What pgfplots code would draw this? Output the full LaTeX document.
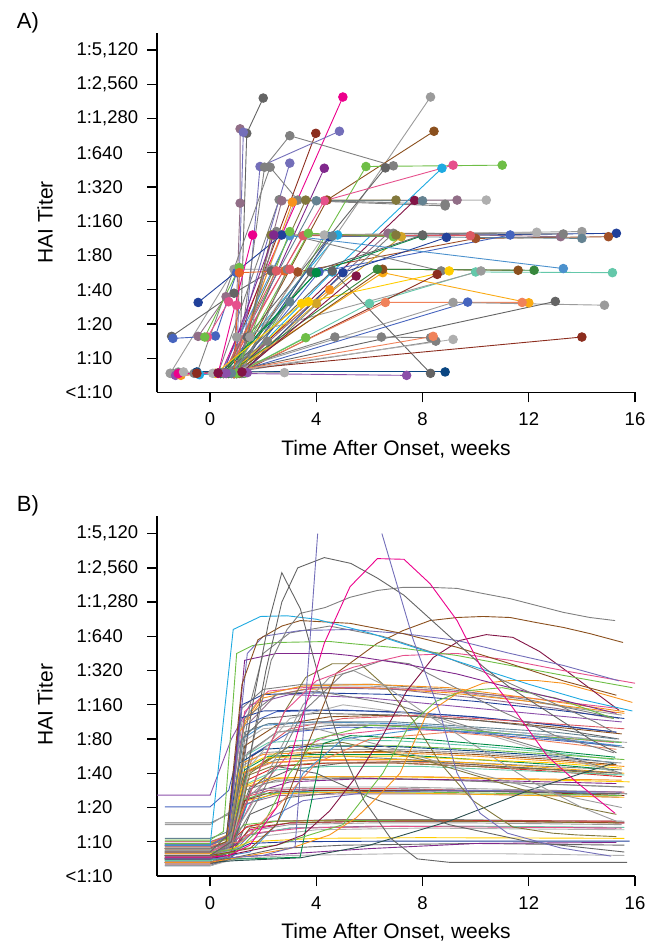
\documentclass[border=0pt]{standalone}
\usepackage{pgfplots}
\pgfplotsset{compat=1.18}
\usepackage{fontspec}
\setmainfont{Liberation Sans}
\definecolor{ga}{RGB}{128,128,128}
\definecolor{gb}{RGB}{100,100,100}
\definecolor{gc}{RGB}{155,155,155}
\definecolor{gd}{RGB}{175,175,175}
\definecolor{nv}{RGB}{33,64,154}
\definecolor{nvb}{RGB}{10,70,130}
\definecolor{bl}{RGB}{70,100,190}
\definecolor{sb}{RGB}{115,110,185}
\definecolor{pu}{RGB}{128,40,140}
\definecolor{pub}{RGB}{140,80,170}
\definecolor{pk}{RGB}{236,0,140}
\definecolor{hp}{RGB}{230,80,140}
\definecolor{br}{RGB}{139,80,30}
\definecolor{brb}{RGB}{160,80,40}
\definecolor{dr}{RGB}{140,45,30}
\definecolor{gr}{RGB}{110,190,70}
\definecolor{dg}{RGB}{0,140,70}
\definecolor{dgb}{RGB}{55,135,60}
\definecolor{or}{RGB}{247,147,30}
\definecolor{orb}{RGB}{250,170,20}
\definecolor{yl}{RGB}{255,205,0}
\definecolor{cy}{RGB}{30,170,225}
\definecolor{tl}{RGB}{100,200,170}
\definecolor{sa}{RGB}{240,130,90}
\definecolor{sr}{RGB}{220,90,100}
\definecolor{mv}{RGB}{145,110,135}
\definecolor{mr}{RGB}{130,20,70}
\definecolor{ol}{RGB}{130,120,60}
\definecolor{sl}{RGB}{75,145,205}
\definecolor{bg}{RGB}{100,130,145}
\definecolor{rd}{RGB}{220,40,40}
\definecolor{gn}{RGB}{210,165,40}
\definecolor{ds}{RGB}{45,80,80}
\definecolor{ora}{RGB}{230,100,40}
\pgfplotsset{
  panel/.style={
    scale only axis, width=478pt, height=359.5pt,
    xmin=-2, xmax=16, ymin=0, ymax=10.5,
    axis x line=bottom, axis y line=left,
    axis line style={-, line width=1.3pt, black},
    tick align=outside,
    major tick length=10pt,
    tick style={line width=1.3pt, black},
    xtick={0,4,8,12,16}, xticklabels={0,4,8,12,16},
    ytick={1,2,3,4,5,6,7,8,9,10},
    yticklabels={1:10,1:20,1:40,1:80,1:160,1:320,1:640,{1:1,280},{1:2,560},{1:5,120}},
    extra y ticks={0}, extra y tick labels={<1:10},
    extra y tick style={major tick length=0pt, yticklabel style={xshift=-20.8pt}},
    tick label style={font=\fontsize{18.5}{22}\selectfont},
    yticklabel style={anchor=west, xshift=-74pt},
    xticklabel style={yshift=-7pt},
    label style={font=\fontsize{21}{25}\selectfont},
    ylabel={HAI Titer}, xlabel={Time After Onset, weeks},
    xlabel style={at={(axis description cs:0.5,-0.159)}, anchor=center},
    clip=false,
  },
  sA/.style={mark=*, mark size=4.3pt, line width=0.9pt},
  sB/.style={no marks, line width=0.9pt},
}
\newcommand{\pA}[2]{\addplot[sA,color=#1] coordinates {#2};}
\newcommand{\pB}[2]{\addplot[sB,color=#1] coordinates {#2};}
\begin{document}
\begin{tikzpicture}
\useasboundingbox (0,0) rectangle (657pt,942pt);
% ---------------- Panel A ----------------
\begin{axis}[panel, at={(157pt,549.5pt)}, anchor=south west,
  ylabel style={at={(axis description cs:-0.234,0.4735)}, anchor=center}]
\node[font=\fontsize{22}{26}\selectfont] at (axis description cs:-0.27,1.027) {A)};
\pA{gd}{(-1.5,0.56) (-1.2,0.6) (0.7,0.56) (3.2,5.6) (10.4,5.62)}
\pA{ga}{(-1.4,0.55) (-0.6,0.56) (0.3,0.56) (2.6,5.63) (8.85,5.45)}
\pA{gc}{(-1.5,0.56) (0.9,3.6) (2.3,3.6)}
\pA{gb}{(-1.45,1.64) (0.9,2.9) (2.3,3.55)}
\pA{bl}{(-1.4,1.58) (0.2,1.65) (1.0,3.5)}
\pA{pub}{(-1.3,0.5) (0.5,0.56) (7.4,0.5)}
\pA{nvb}{(-0.5,0.6) (8.85,0.6)}
\pA{ga}{(-1.2,0.58) (0.6,0.56) (8.5,1.5)}
\pA{or}{(-1.1,0.5) (0.6,0.56) (4.5,3.0)}
\pA{cy}{(-0.4,0.52) (0.4,0.56) (4.8,4.6)}
\pA{gb}{(1.1,0.58) (1.38,7.57) (2.0,8.6)}
\pA{mv}{(0.9,0.55) (1.13,5.53) (1.13,7.7)}
\pA{sb}{(1.0,0.6) (1.25,7.6)}
\pA{pk}{(0.4,0.56) (5.0,8.63)}
\pA{gc}{(1.2,0.58) (8.3,8.63)}
\pA{br}{(0.9,0.55) (4.4,5.62) (8.43,7.63)}
\pA{dr}{(0.6,0.56) (3.98,7.57)}
\pA{sb}{(1.2,0.56) (1.88,6.6) (4.87,7.63)}
\pA{ga}{(1.0,0.55) (2.05,6.58) (3.0,7.5) (6.9,6.62)}
\pA{sb}{(0.7,0.56) (3.0,6.7)}
\pA{pu}{(0.8,0.57) (4.3,6.55)}
\pA{ga}{(-0.5,0.56) (2.26,6.58) (3.3,5.62) (8.85,5.5)}
\pA{gr}{(1.3,0.56) (5.87,6.6) (11.0,6.64)}
\pA{gb}{(1.4,1.62) (6.6,6.56)}
\pA{hp}{(0.5,0.56) (4.3,5.6) (9.15,6.64)}
\pA{cy}{(0.9,0.56) (4.6,3.52) (8.73,6.55)}
\pA{mv}{(1.0,0.56) (2.7,5.6) (9.3,5.62)}
\pA{ol}{(0.6,0.56) (3.6,5.62) (7.0,5.62)}
\pA{mr}{(0.9,0.56) (7.7,5.61)}
\pA{bg}{(0.5,0.56) (4.0,5.6) (8.0,5.6)}
\pA{or}{(0.8,0.56) (3.1,5.56)}
\pA{nv}{(1.0,0.56) (4.5,4.55) (15.3,4.65)}
\pA{brb}{(1.0,0.56) (3.3,3.52) (10.0,4.5) (15.0,4.55)}
\pA{gc}{(1.5,1.62) (2.3,4.59) (14.0,4.7)}
\pA{gd}{(0.8,0.56) (4.3,4.6) (12.3,4.68)}
\pA{mv}{(0.9,0.56) (6.7,4.65) (13.2,4.55)}
\pA{ga}{(1.2,0.56) (6.9,4.65) (13.3,4.63)}
\pA{bg}{(0.7,0.56) (4.6,4.57) (14.0,4.5)}
\pA{bl}{(1.0,0.56) (4.1,3.52) (11.3,4.6)}
\pA{sr}{(0.6,0.56) (3.5,4.58) (9.8,4.58)}
\pA{gr}{(0.8,0.56) (3.7,4.65) (6.9,4.55)}
\pA{gn}{(1.0,0.56) (4.0,2.6) (7.2,4.55)}
\pA{dg}{(0.5,0.56) (4.0,3.5) (8.0,4.58)}
\pA{nv}{(1.2,0.56) (5.0,3.5) (8.9,4.53)}
\pA{gb}{(0.9,0.56) (3.8,3.52) (8.0,4.6)}
\pA{ga}{(1.0,0.56) (2.5,4.7) (8.7,3.55)}
\pA{sl}{(0.4,0.56) (3.0,4.58) (13.3,3.62)}
\pA{tl}{(1.0,0.56) (6.0,2.6) (10.0,3.52) (15.15,3.5)}
\pA{gb}{(0.6,0.56) (4.6,3.55) (8.3,0.56)}
\pA{gc}{(1.0,1.62) (10.2,3.55)}
\pA{yl}{(0.8,0.56) (3.7,2.65) (9.0,3.55)}
\pA{orb}{(0.7,0.56) (6.5,3.5) (12.0,2.62)}
\pA{br}{(0.9,0.56) (6.5,3.6) (11.6,3.57)}
\pA{dgb}{(0.7,0.56) (6.3,3.6) (12.2,3.57)}
\pA{dr}{(1.1,0.56) (8.55,3.45)}
\pA{sa}{(1.0,0.56) (6.6,2.63) (11.75,2.63)}
\pA{gc}{(0.5,0.56) (9.15,2.63) (14.85,2.55)}
\pA{bl}{(0.8,0.56) (9.7,2.64)}
\pA{gb}{(0.5,0.56) (13.0,2.66)}
\pA{dr}{(-0.5,0.56) (14.0,1.62)}
\pA{ga}{(0.4,0.56) (4.7,1.62) (6.45,1.62) (8.3,1.6)}
\pA{gd}{(0.2,0.56) (9.15,1.55)}
\pA{sa}{(0.3,0.56) (8.4,1.64)}
\pA{gr}{(1.0,0.56) (3.6,1.6)}
\pA{mv}{(-0.45,1.64) (0.6,2.8)}
\pA{hp}{(-0.1,1.62) (0.7,2.65) (1.0,2.55)}
\pA{nv}{(-0.45,2.63) (2.7,4.6)}
\pA{gr}{(-0.2,1.62) (1.1,3.65)}
\pA{ora}{(0.9,0.56) (1.1,3.5) (2.8,3.55)}
\pA{ga}{(1.2,0.56) (2.9,3.6)}
\pA{ol}{(1.1,0.56) (2.3,4.6) (7.0,4.6)}
\pA{pu}{(0.5,0.56) (2.4,4.6)}
\pA{gr}{(1.0,0.56) (3.0,4.7)}
\pA{sr}{(0.5,0.56) (2.5,3.55) (3.0,3.6)}
\pA{dg}{(0.4,0.56) (4.0,3.5)}
\pA{ga}{(0.5,0.56) (2.15,1.5)}
\pA{bg}{(0.8,0.56) (3.0,2.65)}
\pA{yl}{(0.2,0.56) (3.45,2.6)}
\pA{pk}{(-1.2,0.55) (0.3,0.56) (1.6,4.6)}
\pA{gd}{(-1.0,0.6) (0.1,0.56) (1.3,0.6) (2.8,0.58)}
\pA{pub}{(0.6,0.56) (1.4,0.58)}
\pA{mr}{(0.3,0.57) (1.2,0.6) (5.5,3.4)}
\end{axis}
% ---------------- Panel B ----------------
\begin{axis}[panel, at={(157pt,66pt)}, anchor=south west,
  ylabel style={at={(axis description cs:-0.234,0.476)}, anchor=center},
  xlabel style={at={(axis description cs:0.5,-0.156)}, anchor=center}]
\node[font=\fontsize{22}{26}\selectfont] at (axis description cs:-0.27,1.029) {B)};
\pB{pub}{(-2,2.36) (0,2.36) (0.8,4.0) (1.5,5.0) (3,5.3) (6,5.2) (10,4.9) (15.5,4.5)}
\pB{bl}{(-1.7,2.02) (0,2.02) (0.7,2.5) (1.3,4.4) (2.5,4.8) (5,4.85) (9,4.7) (12,4.5) (15.3,4.2)}
\pB{ga}{(-1.7,1.55) (0,1.55) (0.7,1.8) (1.3,3.0) (2.5,3.4) (5,3.5) (10,3.3) (15.5,3.1)}
\pB{gc}{(-1.7,1.5) (0,1.5) (1.0,2.0) (2,2.7) (4,2.9) (9,2.8) (15.5,2.6)}
\pB{gc}{(-1.7,0.8) (0,0.8) (0.65,1.0) (1.2,4.5) (2,5.3) (3.5,5.55) (6,5.55) (9,5.4) (12,5.1) (15.5,4.7)}
\pB{hp}{(-1.7,0.6) (0,0.6) (0.7,0.9) (1.3,4.8) (2.2,5.4) (3.5,5.5) (6,5.5) (9,5.4) (12,5.2) (15.3,4.9)}
\pB{or}{(-1.7,0.5) (0,0.5) (0.6,0.7) (1.1,4.2) (2,5.2) (3.5,5.45) (6,5.5) (9,5.35) (12,5.1) (15.6,4.75)}
\pB{ga}{(-1.7,1.0) (0,1.0) (0.7,1.2) (1.2,4.9) (2,5.45) (3.5,5.6) (6,5.6) (9,5.45) (12,5.15) (15.4,4.6)}
\pB{mv}{(-1.7,0.7) (0,0.7) (0.8,0.9) (1.5,4.5) (2.5,5.3) (4,5.5) (7,5.45) (10,5.2) (13,4.9) (15.2,4.6)}
\pB{nv}{(-1.7,0.9) (0,0.9) (0.6,1.1) (1.2,5.0) (2,5.3) (4,5.35) (7,5.3) (10,5.1) (13,4.85) (15.6,4.6)}
\pB{or}{(-1.7,0.8) (0,0.8) (0.65,1.0) (1.3,4.5) (2,5.3) (3.5,5.55) (6,5.6) (9,5.5) (12,5.2) (15.6,4.8)}
\pB{nv}{(-1.7,0.95) (0,0.95) (0.65,1.1) (1.1,4.6) (2,4.82) (4,4.85) (7,4.8) (10,4.65) (13,4.4) (15.3,4.2)}
\pB{br}{(-1.7,0.6) (0,0.6) (0.7,0.8) (1.3,3.8) (2.5,4.4) (4.5,4.65) (7,4.7) (10,4.55) (13,4.35) (15.5,4.15)}
\pB{gb}{(-1.7,0.45) (0,0.45) (0.7,0.7) (1.2,4.0) (2,4.6) (4,4.75) (7,4.7) (10,4.55) (13,4.3) (15.4,4.0)}
\pB{sr}{(-1.7,0.8) (0,0.8) (0.7,1.0) (1.6,3.5) (3,4.3) (5,4.6) (8,4.7) (11,4.55) (15.6,4.3)}
\pB{sl}{(-1.7,0.65) (0,0.65) (0.7,0.9) (1.2,4.0) (2,4.4) (4,4.5) (7,4.45) (10,4.3) (13,4.1) (15.4,3.9)}
\pB{gd}{(-1.7,0.4) (0,0.4) (0.6,0.6) (1.2,3.9) (2,4.3) (4,4.45) (7,4.4) (10,4.3) (13,4.1) (15.7,3.9)}
\pB{bg}{(-1.7,1.1) (0,1.1) (0.7,1.3) (1.3,4.2) (2.2,4.45) (4,4.5) (7,4.5) (10,4.35) (13,4.2) (15.3,4.0)}
\pB{ga}{(-1.7,0.55) (0,0.55) (0.8,0.8) (1.4,3.6) (2.5,4.2) (4.5,4.4) (7,4.4) (10,4.25) (13,4.0) (15.6,3.75)}
\pB{hp}{(-1.7,0.7) (0,0.7) (0.7,0.9) (1.8,2.5) (3,3.6) (4.5,4.1) (7,4.3) (10,4.2) (13,4.05) (15.2,3.9)}
\pB{bl}{(-1.7,0.3) (0,0.3) (0.9,0.6) (1.5,3.5) (3,4.2) (5,4.35) (8,4.3) (11,4.1) (15.4,3.8)}
\pB{tl}{(-1.7,0.85) (0,0.85) (0.7,1.0) (1.3,3.5) (2.2,3.9) (4,3.98) (7,3.95) (10,3.8) (13,3.6) (15.2,3.4)}
\pB{gr}{(-1.7,0.5) (0,0.5) (0.7,0.7) (1.4,3.0) (2.5,3.6) (4.5,3.8) (7,3.8) (10,3.7) (13,3.55) (15.6,3.4)}
\pB{nvb}{(-1.7,0.7) (0,0.7) (0.6,0.9) (1.1,3.3) (2,3.7) (4,3.8) (7,3.78) (10,3.65) (13,3.5) (15.3,3.3)}
\pB{gc}{(-1.7,0.6) (0,0.6) (0.7,0.8) (1.2,3.2) (2,3.6) (4,3.7) (7,3.7) (10,3.6) (13,3.45) (15.5,3.3)}
\pB{or}{(-1.7,0.95) (0,0.95) (0.65,1.2) (1.2,3.3) (2,3.55) (4,3.62) (7,3.6) (10,3.5) (13,3.35) (15.6,3.2)}
\pB{br}{(-1.7,0.4) (0,0.4) (0.7,0.6) (1.3,3.0) (2.3,3.45) (4,3.6) (7,3.65) (10,3.55) (13,3.4) (15.3,3.25)}
\pB{dg}{(-1.7,0.75) (0,0.75) (0.7,0.9) (1.3,3.1) (2.2,3.5) (4,3.55) (7,3.55) (10,3.4) (13,3.25) (15.2,3.1)}
\pB{yl}{(-1.7,0.5) (0,0.5) (0.6,0.7) (1.1,3.1) (2,3.45) (4,3.5) (7,3.5) (10,3.4) (13,3.3) (15.5,3.15)}
\pB{orb}{(-1.7,0.65) (0,0.65) (0.65,0.85) (1.2,3.0) (2,3.3) (4,3.4) (7,3.4) (10,3.3) (13,3.15) (15.6,3.0)}
\pB{sa}{(-1.7,0.9) (0,0.9) (0.7,1.1) (1.3,3.0) (2.3,3.3) (4,3.38) (7,3.35) (10,3.25) (13,3.1) (15.4,3.0)}
\pB{gb}{(-1.7,0.55) (0,0.55) (0.7,0.8) (1.5,2.6) (3,3.1) (5,3.3) (8,3.35) (11,3.2) (15.5,3.0)}
\pB{rd}{(-1.7,0.35) (0,0.35) (0.8,0.6) (1.4,2.8) (2.5,3.2) (4.5,3.3) (7,3.3) (10,3.2) (13,3.05) (15.5,2.9)}
\pB{ol}{(-1.7,0.8) (0,0.8) (0.7,1.0) (1.3,2.9) (2.3,3.2) (4,3.3) (7,3.3) (10,3.2) (13,3.1) (15.3,2.95)}
\pB{tl}{(-1.7,0.45) (0,0.45) (0.7,0.7) (1.4,2.7) (2.5,3.1) (4.5,3.2) (8,3.2) (11,3.1) (15.6,2.95)}
\pB{yl}{(-1.7,0.7) (0,0.7) (0.7,0.9) (1.2,2.6) (2,2.85) (4,2.9) (7,2.9) (10,2.85) (13,2.8) (15.8,2.75)}
\pB{or}{(-1.7,0.6) (0,0.6) (0.7,0.8) (1.3,2.6) (2.5,2.85) (4.5,2.9) (8,2.9) (11,2.85) (15.5,2.8)}
\pB{ga}{(-1.7,0.9) (0,0.9) (0.7,1.1) (1.3,2.5) (2.5,2.8) (5,2.85) (9,2.8) (12,2.7) (15.6,2.6)}
\pB{pu}{(-1.7,0.5) (0,0.5) (0.8,0.7) (1.5,2.4) (3,2.75) (6,2.85) (10,2.8) (15.3,2.7)}
\pB{gc}{(-1.7,0.75) (0,0.75) (0.7,0.9) (1.2,2.3) (2,2.55) (4,2.6) (7,2.6) (10,2.55) (13,2.5) (15.5,2.45)}
\pB{sl}{(-1.7,0.55) (0,0.55) (0.7,0.75) (1.3,2.2) (2.2,2.5) (4,2.55) (7,2.55) (10,2.5) (13,2.45) (15.4,2.4)}
\pB{sr}{(-1.7,1.0) (0,1.0) (0.7,1.15) (1.3,2.3) (2.2,2.5) (4,2.55) (7,2.55) (10,2.5) (15.6,2.45)}
\pB{cy}{(-1.7,0.65) (0,0.65) (0.8,0.85) (1.4,2.1) (2.5,2.45) (5,2.5) (9,2.5) (12,2.45) (15.3,2.4)}
\pB{dr}{(-1.7,0.4) (0,0.4) (0.7,0.6) (1.3,2.2) (2.3,2.45) (4,2.5) (8,2.5) (12,2.45) (15.6,2.35)}
\pB{gr}{(-1.7,0.85) (0,0.85) (0.6,1.0) (1.1,2.2) (2,2.4) (4,2.45) (8,2.45) (12,2.4) (15.5,2.35)}
\pB{gb}{(-1.7,0.3) (0,0.3) (0.8,0.5) (1.5,1.8) (3,2.3) (5,2.45) (8,2.5) (12,2.45) (15.7,2.4)}
\pB{mv}{(-1.7,0.7) (0,0.7) (0.7,0.85) (1.3,2.1) (2.5,2.35) (5,2.4) (9,2.4) (13,2.35) (15.4,2.3)}
\pB{sb}{(-1.7,0.6) (0,0.6) (1.0,0.8) (2.0,1.6) (3.5,2.2) (6,2.45) (10,2.5) (15.5,2.45)}
\pB{orb}{(-1.7,0.95) (0,0.95) (0.7,1.1) (1.4,2.2) (2.5,2.4) (5,2.45) (9,2.4) (15.6,2.3)}
\pB{ga}{(-1.7,0.5) (0,0.5) (0.7,0.7) (1.3,1.4) (2.3,1.6) (5,1.65) (9,1.65) (12,1.62) (15.6,1.6)}
\pB{rd}{(-1.7,0.8) (0,0.8) (0.7,0.95) (1.4,1.45) (2.5,1.6) (5,1.63) (9,1.62) (15.3,1.6)}
\pB{pk}{(-1.7,0.65) (0,0.65) (0.8,0.8) (1.5,1.35) (3,1.55) (6,1.6) (10,1.6) (15.6,1.55)}
\pB{gc}{(-1.7,0.4) (0,0.4) (0.7,0.6) (1.4,1.3) (3,1.5) (6,1.55) (10,1.55) (15.5,1.5)}
\pB{gr}{(-1.7,0.95) (0,0.95) (0.7,1.1) (1.3,1.5) (2.5,1.6) (6,1.62) (10,1.6) (15.4,1.55)}
\pB{br}{(-1.7,0.55) (0,0.55) (0.8,0.7) (1.5,1.4) (3,1.55) (6,1.6) (11,1.6) (15.6,1.55)}
\pB{pu}{(-1.7,0.7) (0,0.7) (0.8,0.85) (1.5,1.2) (3,1.4) (6,1.45) (10,1.45) (15.3,1.4)}
\pB{tl}{(-1.7,0.45) (0,0.45) (0.7,0.6) (1.4,1.2) (3,1.4) (7,1.45) (11,1.45) (15.6,1.42)}
\pB{hp}{(-1.7,0.85) (0,0.85) (0.7,1.0) (1.6,1.25) (3.5,1.4) (7,1.45) (15.5,1.4)}
\pB{gd}{(-1.7,0.6) (0,0.6) (0.9,0.75) (1.8,1.15) (4,1.35) (8,1.4) (15.6,1.35)}
\pB{nv}{(-1.7,0.5) (0,0.5) (0.8,0.7) (1.5,0.95) (3,1.0) (7,1.02) (11,1.02) (15.8,1.02)}
\pB{yl}{(-1.7,0.65) (0,0.65) (0.8,0.8) (1.5,1.0) (4,1.1) (8,1.12) (15.6,1.1)}
\pB{gb}{(-1.7,0.35) (0,0.35) (1.0,0.55) (2.5,0.8) (5,0.9) (10,0.95) (15.6,0.9)}
\pB{pu}{(-1.7,0.4) (0,0.4) (1.0,0.55) (3,0.65) (6,0.8) (10,0.95) (15.3,0.98)}
\pB{gd}{(-1.7,0.3) (0,0.3) (1.0,0.5) (3,0.6) (7,0.65) (11,0.65) (15.6,0.6)}
\pB{ds}{(-1.7,0.4) (0,0.4) (1,0.45) (3.39,0.53) (6,0.9) (9,1.6) (12,2.5) (15.2,3.3)}
\pB{gc}{(-1.7,0.6) (0,0.6) (0.7,0.8) (1.3,3.5) (2.5,4.2) (4,4.3) (7,3.7) (10,3.0) (13,2.4) (15.5,2.0)}
\pB{ol}{(-1.7,0.5) (0,0.5) (0.8,0.7) (1.5,3.0) (3,3.8) (5,3.9) (8,3.4) (11,2.7) (14,2.0) (15.3,1.8)}
\pB{ga}{(-1.7,0.8) (0,0.8) (0.7,1.0) (1.3,4.6) (2.5,5.3) (4,5.4) (7,5.0) (10,4.3) (13,3.6) (15.5,3.0)}
\pB{gd}{(-1.7,0.7) (0,0.7) (0.8,0.9) (1.5,3.2) (3,4.6) (5,5.0) (8,4.7) (11,4.0) (14,3.3) (15.4,3.0)}
\pB{gb}{(-1.7,0.5) (0,0.5) (0.8,0.7) (1.5,2.5) (2.5,3.2) (4,3.0) (6,2.3) (9,1.5) (12,1.0) (15.6,0.7)}
\pB{gr}{(-1.7,0.6) (0,0.6) (1,0.7) (2,1.5) (3,3) (4,4.0) (6,4.4) (9,4.3) (12,4.1) (15.5,3.9)}
\pB{sl}{(-1.7,0.5) (0,0.5) (1.5,0.7) (2.5,1.5) (3.5,3.0) (5,4.0) (8,4.3) (12,4.1) (15.5,3.8)}
\pB{sa}{(-1.7,0.9) (0,0.9) (1.2,1.0) (2.5,2.0) (4,3.3) (6,4.0) (9,4.2) (12,4.0) (15.3,3.7)}
% special curves
\pB{ol}{(-1.7,0.6) (0,0.6) (0.8,1.0) (1.8,3.0) (2.8,4.8) (3.6,5.8) (4.6,6.2) (5.65,6.2) (6.65,5.5) (7.65,4.55) (8.66,3.3) (9.9,2.2) (11.4,1.43) (12.9,1.25) (13.8,1.2) (15.3,1.15)}
\pB{gc}{(-1.7,0.7) (0,0.7) (0.7,1.0) (1.5,2.0) (2.5,3.5) (3.5,5.0) (4.5,5.8) (5.4,6.0) (6.5,5.6) (8,4.8) (10,3.8) (12,2.8) (14,2.0) (15.3,1.6)}
\pB{ga}{(-1.7,0.55) (0,0.55) (0.8,0.9) (2,2.5) (3.5,4.8) (5,5.9) (6.5,6.3) (7.5,6.2) (9,5.6) (11,4.8) (13,4.1) (15.2,3.6)}
\pB{dg}{(-1.7,0.5) (0,0.5) (1.5,0.5) (3.39,0.55) (4.26,3.87) (5.27,4.1) (8,4.0) (11,3.8) (15.25,3.47)}
\pB{gr}{(-1.7,0.7) (0,0.7) (2.5,0.9) (5,1.5) (6.5,3) (7.5,4.4) (8.5,5.1) (9.5,5.4) (11,5.5) (13,5.2) (15.2,4.6)}
\pB{or}{(-1.7,0.4) (0,0.4) (3,0.8) (4.5,1.2) (5.5,1.7) (6.3,2.3) (7.15,3.0) (8.17,4.75) (9.3,5.33) (10.28,5.63) (11.3,5.71) (12.3,5.71) (13.3,5.63) (14.3,5.42) (15.9,5.07)}
\pB{mr}{(-1.7,0.5) (0,0.5) (2.5,0.9) (3.5,1.2) (4.5,1.9) (5.5,2.9) (6.5,4.1) (7.4,5.4) (8.4,6.38) (9.4,6.88) (10.4,7.05) (11.4,6.97) (12.4,6.56) (13.4,6.0) (14.4,5.42) (15.4,4.84)}
\pB{br}{(-1.7,0.6) (0,0.6) (1.5,0.8) (2.5,1.5) (3.5,3.5) (4.75,5.92) (6.3,6.8) (7.27,7.17) (8.28,7.46) (9.3,7.55) (10.28,7.58) (11.3,7.55) (12.3,7.4) (13.3,7.26) (14.3,7.08) (15.55,6.82)}
\pB{hp}{(-1.7,0.7) (0,0.7) (0.8,1.0) (1.8,3.0) (2.8,4.8) (4.0,5.7) (5.4,6.1) (7.27,6.44) (9.3,6.5) (11.3,6.3) (13.3,6.0) (16,5.63)}
\pB{pu}{(-1.7,0.9) (0,0.9) (0.7,1.2) (1.3,6.3) (2.5,6.5) (4.5,6.5) (5.27,6.44) (7.27,6.2) (9.3,5.9) (11.3,5.5) (13.3,5.13) (15.3,4.75)}
\pB{gr}{(-1.7,1.05) (0,1.05) (0.5,1.3) (1.0,6.5) (1.6,6.73) (2.5,6.82) (4.5,6.85) (5.27,6.79) (7.27,6.65) (9.3,6.44) (11.3,6.15) (13.3,5.86) (15.9,5.5)}
\pB{ga}{(-1.7,0.6) (0,0.6) (0.7,0.9) (1.5,5.0) (2.0,6.5) (3,7.1) (4.5,7.3) (6.5,7.0) (8.5,6.5) (10.5,5.9) (12.5,5.2) (14.5,4.5) (15.2,4.2)}
\pB{sb}{(-1.7,0.9) (0,0.9) (0.7,1.2) (1.4,6.5) (2.0,7.0) (3.4,7.17) (5.27,7.2) (7.27,7.08) (9.3,6.88) (11.3,6.5) (13.3,6.15) (15.4,5.7)}
\pB{br}{(-1.7,0.8) (0,0.8) (0.6,1.0) (1.2,5.6) (1.8,6.9) (2.7,7.3) (3.4,7.46) (5.27,7.38) (7.27,7.08) (9.3,6.68) (11.3,6.2) (13.3,5.7) (15.3,5.28)}
\pB{cy}{(-1.7,0.9) (0,0.9) (0.87,7.2) (1.9,7.58) (2.9,7.6) (4,7.5) (6,7.1) (8,6.6) (10,6.1) (12,5.6) (14,5.15) (15.9,4.82)}
\pB{ga}{(-1.7,0.8) (0,0.8) (0.8,1.0) (1.5,3.5) (2.3,6.3) (2.9,7.2) (3.39,7.67) (4.33,7.84) (5.27,8.14) (6.3,8.34) (7.27,8.43) (8.28,8.43) (9.3,8.4) (10.28,8.25) (11.3,8.1) (12.3,7.9) (13.3,7.7) (14.3,7.55) (15.25,7.46)}
\pB{gb}{(-1.7,0.6) (0,0.6) (0.8,1.0) (1.5,3.5) (2.1,6.0) (2.7,8.0) (3.3,9.0) (4.3,9.3) (5.3,9.13) (6.3,8.7) (7.3,8.2) (8.3,7.5) (9.3,6.8) (10.3,6.1) (11.3,5.5) (12.3,5.0) (13.3,4.5) (14.3,4.0) (15.3,3.6)}
\pB{gb}{(-1.7,0.7) (0,0.7) (0.8,1.3) (1.6,5.0) (2.2,7.4) (2.7,8.86) (3.4,7.8) (4.2,5.5) (5.0,3.6) (5.8,2.2) (6.8,1.1) (7.8,0.5) (9,0.4) (15.7,0.4)}
\pB{pk}{(-1.7,0.55) (0,0.55) (0.7,0.6) (1.5,0.9) (2.5,2.0) (3.3,4.2) (4.3,6.8) (5.27,8.45) (6.3,9.27) (7.3,9.25) (8.28,8.54) (9.3,7.46) (10.2,6.1) (11.2,5.13) (12.0,4.26) (12.7,3.5) (13.8,2.74) (15.25,1.83)}
\pB{sb}{(-1.7,0.5) (0,0.5) (2.0,0.6) (3.2,0.85) (4.05,10.0)}
\pB{sb}{(6.47,10.0) (7.65,6.9) (8.66,4.75) (9.3,3.0) (10.17,1.83) (11.2,1.25) (13.2,0.82) (15.1,0.58)}
\end{axis}
\end{tikzpicture}
\end{document}
